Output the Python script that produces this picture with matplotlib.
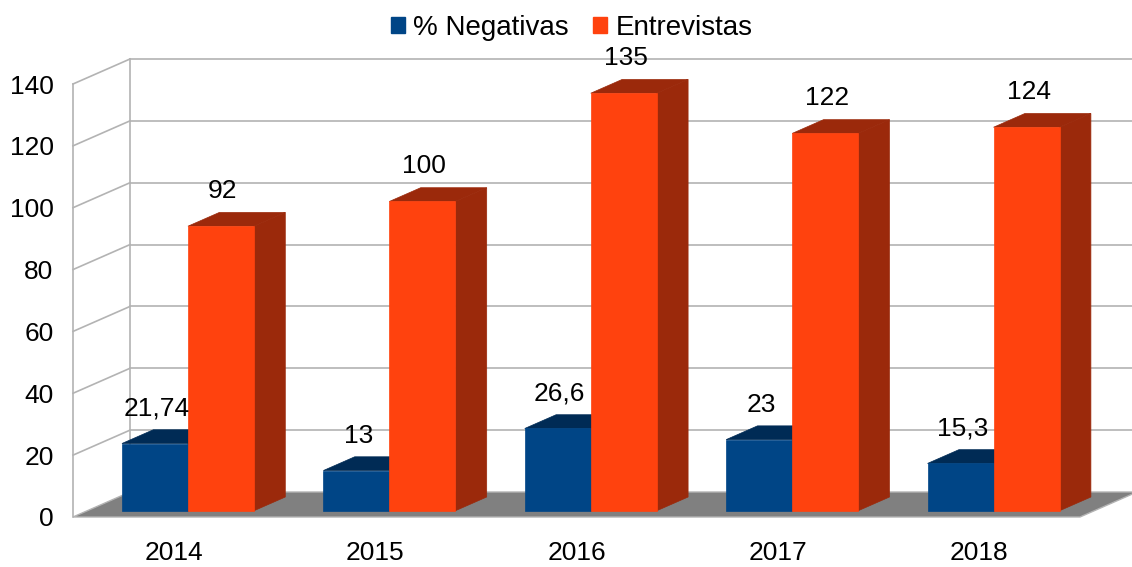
import matplotlib
matplotlib.use("Agg")
import matplotlib.pyplot as plt
from matplotlib.patches import Polygon, Patch

# Datos del gráfico
anios = ['2014', '2015', '2016', '2017', '2018']
negativas = [21.74, 13, 26.6, 23, 15.3]
entrevistas = [92, 100, 135, 122, 124]
series = ['% Negativas', 'Entrevistas']

plt.rcParams['font.family'] = ['Liberation Sans', 'DejaVu Sans']

azul, azul_osc = '#004586', '#002b55'
naranja, naranja_osc = '#ff420e', '#9b290b'
gris_rejilla = '#b3b3b3'
tam = 19

fig = plt.figure(figsize=(11.32, 5.67), dpi=100)
ax = fig.add_axes([73 / 1132, 50 / 567, 1007 / 1132, 433 / 567])
ax.set_xlim(-0.5, 4.5)
ax.set_ylim(0, 140)
for s in ax.spines.values():
    s.set_visible(False)

# profundidad (en unidades de datos) de la "caja" 3D
px_x = 1007 / 5
px_y = 433 / 140
DX = 57 / px_x
DY = 25 / px_y

x0, x1 = ax.get_xlim()
ticks = list(range(0, 141, 20))

# suelo
ax.add_patch(Polygon([(x0, 0), (x1, 0), (x1 + DX, DY), (x0 + DX, DY)],
                     closed=True, facecolor='#808080', edgecolor=gris_rejilla,
                     lw=1, clip_on=False, zorder=1))

# rejilla: pared izquierda y pared del fondo
for v in ticks[1:]:
    ax.plot([x0, x0 + DX], [v, v + DY], color=gris_rejilla, lw=1.2, clip_on=False, zorder=0)
    ax.plot([x0 + DX, x1 + DX], [v + DY, v + DY], color=gris_rejilla, lw=1.2, clip_on=False, zorder=0)
ax.plot([x0, x0], [0, 140], color=gris_rejilla, lw=1.2, clip_on=False, zorder=0)
ax.plot([x0 + DX, x0 + DX], [DY, 140 + DY], color=gris_rejilla, lw=1.2, clip_on=False, zorder=0)

# barras con caras frontal, superior y lateral
d0, prof = 0.25, 0.55
ox, oy = d0 * DX, d0 * DY
bx, by = prof * DX, prof * DY
ancho = 66 / px_x


def barra(xl, v, cara, oscuro, z):
    xr = xl + ancho
    top = oy + v
    ax.add_patch(Polygon([(xr, oy), (xr + bx, oy + by), (xr + bx, top + by), (xr, top)],
                         closed=True, facecolor=oscuro, edgecolor=oscuro, lw=0.5,
                         clip_on=False, zorder=z))
    ax.add_patch(Polygon([(xl, top), (xr, top), (xr + bx, top + by), (xl + bx, top + by)],
                         closed=True, facecolor=oscuro, edgecolor=oscuro, lw=0.5,
                         clip_on=False, zorder=z))
    ax.bar(xl, v, width=ancho, bottom=oy, align='edge', color=cara,
           edgecolor=cara, lw=0.5, clip_on=False, zorder=z + 0.5)
    etiqueta = ('%g' % v).replace('.', ',')
    ax.annotate(etiqueta, xy=(xl + ancho / 2, top), xytext=(2, 35),
                textcoords='offset pixels', ha='center', va='center',
                fontsize=tam, color='black', zorder=10)


for i, (n, e) in enumerate(zip(negativas, entrevistas)):
    c = i + ox
    barra(c - ancho, n, azul, azul_osc, 2 + i * 2)
    barra(c, e, naranja, naranja_osc, 3 + i * 2)

ax.set_yticks(ticks)
ax.set_yticklabels([str(t) for t in ticks])
ax.set_xticks(range(len(anios)))
ax.set_xticklabels(anios)
ax.tick_params(axis='y', length=0, pad=14, labelsize=tam)
ax.tick_params(axis='x', length=0, pad=17, labelsize=tam)

handles = [Patch(facecolor=azul, edgecolor=azul), Patch(facecolor=naranja, edgecolor=naranja)]
fig.legend(handles, series, loc='upper center', bbox_to_anchor=(0.505, 1.0), ncol=2,
           frameon=False, fontsize=20, handlelength=0.5, handleheight=0.5,
           handletextpad=0.3, columnspacing=0.9, borderaxespad=0.15)

fig.savefig('out.png', dpi=100)
